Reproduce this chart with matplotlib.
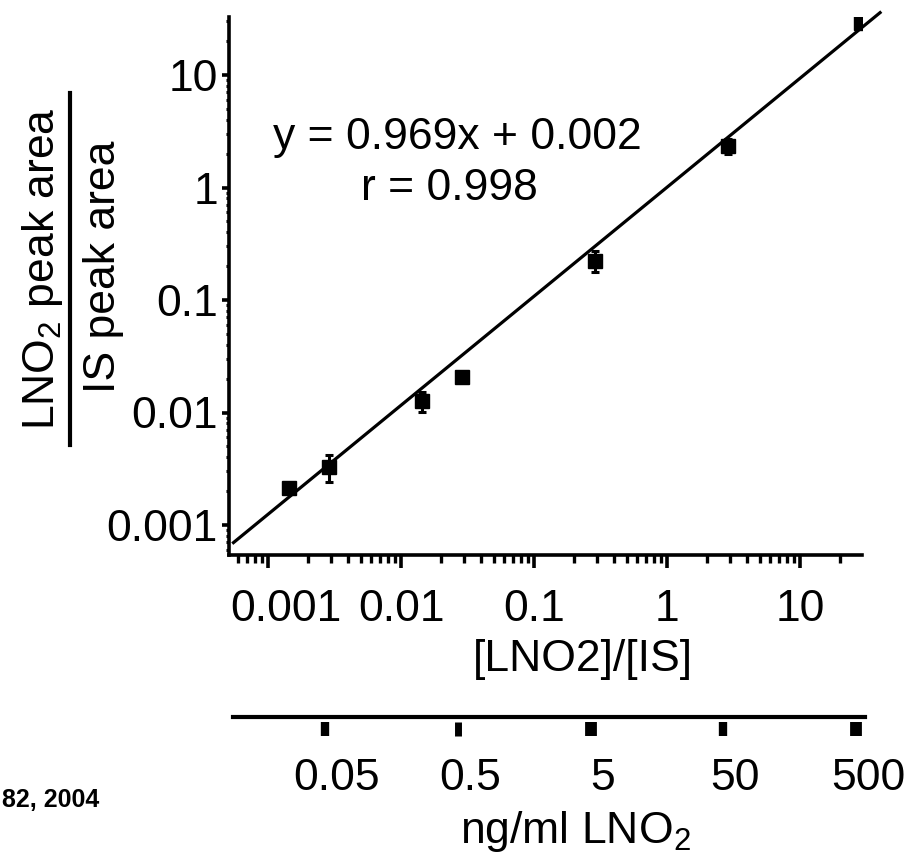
import matplotlib
matplotlib.use('Agg')
import matplotlib.pyplot as plt
import numpy as np
import matplotlib.transforms as mtransforms
from matplotlib.lines import Line2D
from matplotlib.ticker import FixedLocator, FixedFormatter, LogLocator, NullFormatter

plt.rcParams['font.family'] = ['Liberation Sans', 'DejaVu Sans']
plt.rcParams['mathtext.fontset'] = 'custom'
plt.rcParams['mathtext.rm'] = 'Liberation Sans'
plt.rcParams['mathtext.it'] = 'Liberation Sans:italic'
plt.rcParams['mathtext.bf'] = 'Liberation Sans:bold'

# ---------------- data ----------------
ratio_x = [0.00143, 0.00286, 0.0143, 0.0286, 0.286, 2.86, 28.6]
area_ratio = [0.00215, 0.0033, 0.0127, 0.0205, 0.224, 2.33, 28.7]
area_err = [0.0, 0.0009, 0.0025, 0.0, 0.047, 0.35, 0.0]
fit_slope = 0.969
fit_intercept = 0.002
fit_x_range = [0.00055, 40.0]
x_ticks = [0.001, 0.01, 0.1, 1, 10]
x_ticklabels = ['0.001', '0.01', '0.1', '1', '10']
y_ticks = [0.001, 0.01, 0.1, 1, 10]
y_ticklabels = ['0.001', '0.01', '0.1', '1', '10']
conc_ticks = [0.05, 0.5, 5, 50, 500]
conc_labels = ['0.05', '0.5', '5', '50', '500']
equation_text = 'y = 0.969x + 0.002'
r_text = 'r = 0.998'
xlabel_text = '[LNO2]/[IS]'
ylabel_num = 'LNO$_2$ peak area'
ylabel_den = 'IS peak area'
conc_label_text = 'ng/ml LNO$_2$'
citation_text = '82, 2004'

# ---------------- figure ----------------
W, H = 911, 866
fig = plt.figure(figsize=(W / 100, H / 100), dpi=100)

def fx(px):
    return px / W

def fy(py):
    return 1 - py / H

FS = 32
ax = fig.add_axes([fx(229), fy(555), fx(862) - fx(229), fy(17) - fy(555)])
ax.set_xscale('log')
ax.set_yscale('log')
ax.set_xlim(10 ** (-3 - 39 / 133), 10 ** (1 + 62 / 133))
ax.set_ylim(10 ** (-3 - 30 / 112.5), 10 ** (1 + 58 / 112.5))

for s in ['top', 'right']:
    ax.spines[s].set_visible(False)
for s in ['left', 'bottom']:
    ax.spines[s].set_linewidth(2.6)

ax.xaxis.set_major_locator(FixedLocator(x_ticks))
ax.xaxis.set_major_formatter(FixedFormatter(x_ticklabels))
ax.yaxis.set_major_locator(FixedLocator(y_ticks))
ax.yaxis.set_major_formatter(FixedFormatter(y_ticklabels))
ax.xaxis.set_minor_locator(LogLocator(base=10, subs=np.arange(2, 10), numticks=20))
ax.yaxis.set_minor_locator(LogLocator(base=10, subs=np.arange(2, 10), numticks=20))
ax.xaxis.set_minor_formatter(NullFormatter())
ax.yaxis.set_minor_formatter(NullFormatter())
ax.tick_params(axis='x', which='major', direction='out', length=9.5, width=2.6, pad=15, labelsize=FS)
ax.tick_params(axis='x', which='minor', direction='out', length=6, width=2.4)
ax.tick_params(axis='y', which='major', direction='out', length=5, width=2.6, pad=3, labelsize=FS)
ax.tick_params(axis='y', which='minor', direction='out', length=2.5, width=2.2)

# data points with error bars
ax.errorbar(ratio_x, area_ratio, yerr=area_err, fmt='s', color='black',
            markersize=10, elinewidth=2.2, capsize=3, capthick=2.2, zorder=3)

# fitted line (log-log)
fx_line = np.logspace(np.log10(fit_x_range[0]), np.log10(fit_x_range[1]), 50)
fy_line = 10 ** (fit_slope * np.log10(fx_line) + fit_intercept)
ax.plot(fx_line, fy_line, color='black', linewidth=2.3, clip_on=False, zorder=2)

# equation text
fig.text(fx(457), fy(137), equation_text, fontsize=FS, ha='center', va='center')
fig.text(fx(449), fy(189), r_text, fontsize=FS, ha='center', va='center')

# x label
fig.text(fx(583), fy(660), xlabel_text, fontsize=FS, ha='center', va='center')

# y label as a fraction
fig.text(fx(43), fy(269), ylabel_num, fontsize=FS, rotation=90, ha='center', va='center')
fig.text(fx(103), fy(267), ylabel_den, fontsize=FS, rotation=90, ha='center', va='center')
fig.add_artist(Line2D([fx(70), fx(70)], [fy(93), fy(445)], color='black', linewidth=3,
                      transform=fig.transFigure))

# secondary concentration axis
ax2 = fig.add_axes([fx(233), fy(740), fx(865) - fx(233), fy(717) - fy(740)])
ax2.set_xscale('log')
lo = 10 ** (np.log10(conc_ticks[0]) - (325 - 233) / 132.75)
hi = 10 ** (np.log10(conc_ticks[-1]) + (865 - 856) / 132.75)
ax2.set_xlim(lo, hi)
ax2.set_ylim(0, 1)
for s in ['left', 'right', 'bottom']:
    ax2.spines[s].set_visible(False)
ax2.spines['top'].set_linewidth(3)
ax2.set_xticks([])
ax2.set_yticks([])
ax2.xaxis.set_minor_locator(FixedLocator([]))
ax2.patch.set_alpha(0)
tick_w = [6, 5, 8.5, 6, 8.5]
ax2.vlines(conc_ticks, 0.17, 0.78, colors='black', linewidths=tick_w)

blend = mtransforms.blended_transform_factory(ax2.transData, fig.transFigure)
off = mtransforms.ScaledTranslation(12 / 100, 0, fig.dpi_scale_trans)
for v, lab in zip(conc_ticks, conc_labels):
    fig.text(v, fy(779), lab, fontsize=FS, ha='center', va='center', transform=blend + off)

fig.text(fx(575), fy(832), conc_label_text, fontsize=FS, ha='center', va='center')

# truncated citation
fig.text(fx(2), fy(800), citation_text, fontsize=18, fontweight='bold', ha='left', va='center')

# shift first x tick label right (it is nudged away from the y axis in the original)
fig.canvas.draw()
first = ax.get_xticklabels()[0]
first.set_transform(first.get_transform() +
                    mtransforms.ScaledTranslation(18 / 100, 0, fig.dpi_scale_trans))

fig.savefig('out.png', dpi=100)
